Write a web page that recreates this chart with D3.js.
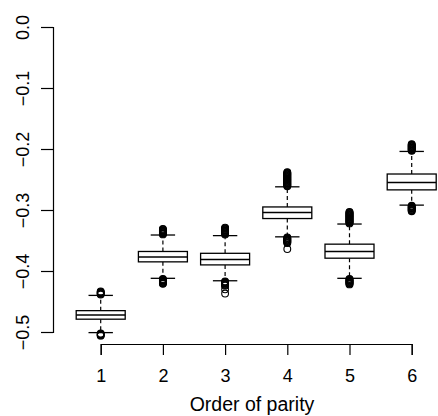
<!DOCTYPE html>
<html>
<head>
<meta charset="utf-8">
<script src="https://cdn.jsdelivr.net/npm/d3@7"></script>
<style>
  body { margin: 0; background: #fff; }
  svg text { font-family: "Liberation Sans", Arial, sans-serif; fill: #000; }
</style>
</head>
<body>
<svg id="chart" width="438" height="416"></svg>
<script>
// parity order groups
const groups = [1, 2, 3, 4, 5, 6]
const whiskerHi = [-0.440, -0.341, -0.342, -0.262, -0.323, -0.204]
const q3 = [-0.465, -0.368, -0.371, -0.295, -0.356, -0.241]
const medians = [-0.472, -0.377, -0.381, -0.304, -0.368, -0.255]
const q1 = [-0.479, -0.385, -0.390, -0.314, -0.379, -0.267]
const whiskerLo = [-0.501, -0.412, -0.416, -0.344, -0.412, -0.292]

const outliersHi = [
  [-0.4335, -0.4345, -0.4355, -0.4365, -0.4375, -0.4385],
  [-0.331, -0.332, -0.333, -0.334, -0.335, -0.336, -0.337, -0.338, -0.339, -0.340],
  [-0.329, -0.330, -0.331, -0.332, -0.333, -0.334, -0.335, -0.336, -0.337, -0.338, -0.339, -0.340],
  [-0.238, -0.239, -0.240, -0.241, -0.242, -0.243, -0.244, -0.245, -0.246, -0.247, -0.248, -0.249,
   -0.250, -0.251, -0.252, -0.253, -0.254, -0.255, -0.256, -0.257, -0.258, -0.259, -0.260, -0.261],
  [-0.303, -0.304, -0.305, -0.306, -0.307, -0.308, -0.309, -0.310, -0.311, -0.312, -0.313, -0.314,
   -0.315, -0.316, -0.317, -0.318, -0.319, -0.320, -0.321, -0.322],
  [-0.192, -0.193, -0.194, -0.195, -0.196, -0.197, -0.198, -0.199, -0.200, -0.201, -0.202, -0.203]
]
const outliersLo = [
  [-0.5025, -0.5035, -0.5045, -0.5055, -0.506],
  [-0.413, -0.414, -0.415, -0.416, -0.417, -0.418, -0.419, -0.420, -0.421],
  [-0.417, -0.418, -0.419, -0.420, -0.421, -0.422, -0.423, -0.424, -0.430, -0.437],
  [-0.345, -0.346, -0.347, -0.348, -0.349, -0.350, -0.351, -0.352, -0.353, -0.354, -0.364],
  [-0.413, -0.414, -0.415, -0.416, -0.417, -0.418, -0.419, -0.420, -0.421, -0.422],
  [-0.293, -0.294, -0.295, -0.296, -0.297, -0.298, -0.299, -0.300, -0.301, -0.302]
]

const yTicks = [0, -0.1, -0.2, -0.3, -0.4, -0.5]
const yTickLabels = ['0.0', '\u22120.1', '\u22120.2', '\u22120.3', '\u22120.4', '\u22120.5']
const xLabel = 'Order of parity'

const svg = d3.select('#chart')

const x = d3.scaleLinear().domain([1, 6]).range([100.7, 411.7])
const y = d3.scaleLinear().domain([0, -0.5]).range([27, 332])

const boxHalf = 24.5
const capHalf = 12.2

// y axis
const yAxis = svg.append('g')
  .attr('transform', 'translate(53,0)')
  .call(d3.axisLeft(y).tickValues(yTicks).tickSizeOuter(0).tickSize(12)
    .tickFormat((d, i) => yTickLabels[i]))
yAxis.select('.domain').attr('stroke', '#000').attr('stroke-width', 1.2)
yAxis.selectAll('.tick line').attr('stroke', '#000').attr('stroke-width', 1.2)
yAxis.selectAll('.tick text')
  .attr('transform', 'rotate(-90)')
  .attr('x', 0)
  .attr('y', -24)
  .attr('dy', null)
  .attr('text-anchor', 'middle')
  .attr('font-size', '18px')
  .style('font-family', '"Liberation Sans", Arial, sans-serif')

// x axis
const xAxis = svg.append('g')
  .attr('transform', 'translate(0,344)')
  .call(d3.axisBottom(x).tickValues(groups).tickSizeOuter(0).tickSize(11)
    .tickFormat(d3.format('d')))
xAxis.select('.domain').attr('stroke', '#000').attr('stroke-width', 1.2)
xAxis.selectAll('.tick line').attr('stroke', '#000').attr('stroke-width', 1.2)
xAxis.selectAll('.tick text')
  .attr('y', 38)
  .attr('dy', null)
  .attr('font-size', '18px')
  .style('font-family', '"Liberation Sans", Arial, sans-serif')

svg.append('text')
  .attr('x', 252)
  .attr('y', 411)
  .attr('text-anchor', 'middle')
  .attr('font-size', '19.5px')
  .text(xLabel)

// boxes
const plot = svg.append('g')
groups.forEach((g, i) => {
  const cx = x(g)
  const grp = plot.append('g')

  // whiskers
  grp.append('line')
    .attr('x1', cx).attr('x2', cx)
    .attr('y1', y(q3[i])).attr('y2', y(whiskerHi[i]))
    .attr('stroke', '#000').attr('stroke-width', 1.2).attr('stroke-dasharray', '4,3')
  grp.append('line')
    .attr('x1', cx).attr('x2', cx)
    .attr('y1', y(q1[i])).attr('y2', y(whiskerLo[i]))
    .attr('stroke', '#000').attr('stroke-width', 1.2).attr('stroke-dasharray', '4,3')

  // caps
  ;[whiskerHi[i], whiskerLo[i]].forEach(v => {
    grp.append('line')
      .attr('x1', cx - capHalf).attr('x2', cx + capHalf)
      .attr('y1', y(v)).attr('y2', y(v))
      .attr('stroke', '#000').attr('stroke-width', 1.3)
  })

  // box
  grp.append('rect')
    .attr('x', cx - boxHalf)
    .attr('y', y(q3[i]))
    .attr('width', boxHalf * 2)
    .attr('height', y(q1[i]) - y(q3[i]))
    .attr('fill', '#fff')
    .attr('stroke', '#000')
    .attr('stroke-width', 1.3)
  grp.append('line')
    .attr('x1', cx - boxHalf).attr('x2', cx + boxHalf)
    .attr('y1', y(medians[i])).attr('y2', y(medians[i]))
    .attr('stroke', '#000').attr('stroke-width', 1.5)

  // outliers
  grp.selectAll('circle')
    .data(outliersHi[i].concat(outliersLo[i]))
    .join('circle')
    .attr('cx', cx)
    .attr('cy', d => y(d))
    .attr('r', 3.4)
    .attr('fill', 'none')
    .attr('stroke', '#000')
    .attr('stroke-width', 1.1)
})
</script>
</body>
</html>
